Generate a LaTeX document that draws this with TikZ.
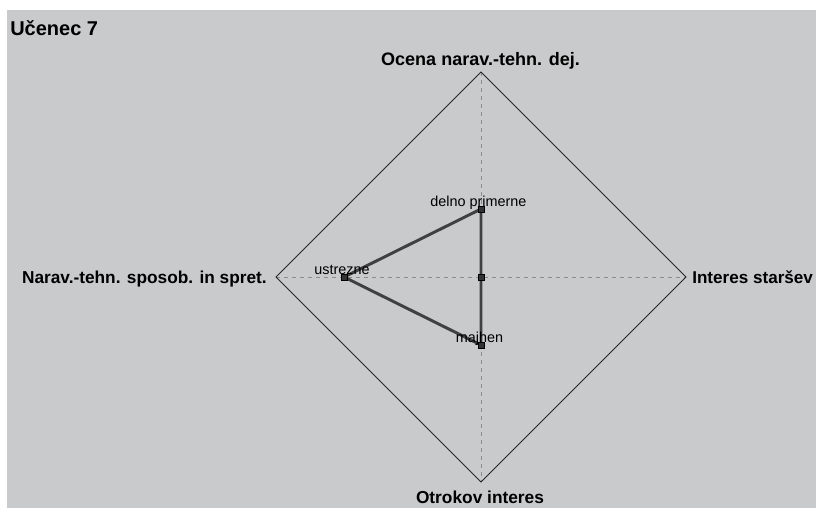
\documentclass[tikz,border=0pt]{standalone}
\usepackage{fontspec}
\setmainfont{Liberation Sans}
\definecolor{bg}{RGB}{201,202,204}
\definecolor{polyc}{RGB}{64,64,64}
\definecolor{axisc}{RGB}{140,140,140}
\newcommand{\fitw}[2]{\resizebox{#1}{!}{\fontsize{13.5}{15}\selectfont\bfseries #2}}
\begin{document}
\begin{tikzpicture}[x=0.75pt,y=-0.75pt,
  axisline/.style={draw=axisc,line width=0.75pt,dash pattern=on 3pt off 3pt},
  frame/.style={draw=black!85,line width=0.75pt},
  poly/.style={draw=polyc,line width=2.2pt},
  datapt/.style={draw=black,fill=polyc!80!black,line width=0.6pt,minimum size=4.5pt,inner sep=0pt,rectangle},
  axlabel/.style={inner sep=0pt},
  vallabel/.style={font=\fontsize{10.8}{12}\selectfont,inner sep=0pt,anchor=base},
  ]
\useasboundingbox (0,0) rectangle (816,508);
\fill[white] (0,0) rectangle (816,508);
\fill[bg] (7,10) rectangle (816,508);
\node[font=\fontsize{15}{17}\selectfont\bfseries,inner sep=0pt,anchor=base west] (title) at (10,35) {Učenec 7};
\coordinate (C) at (481,277);
\coordinate (T) at (481,72);
\coordinate (B) at (481,482);
\coordinate (L) at (276,277);
\coordinate (R) at (686,277);
\draw[axisline] (L) -- (R);
\draw[axisline] (T) -- (B);
\draw[frame] (T) -- (R) -- (B) -- (L) -- cycle;
\node[axlabel,anchor=base] (lt) at (480.5,65) {\fitw{149pt}{Ocena narav.-tehn. dej.}};
\node[axlabel,anchor=base east] (ll) at (267,283) {\fitw{183.5pt}{Narav.-tehn. sposob. in spret.}};
\node[axlabel,anchor=base west] (lr) at (692,283) {\fitw{90.5pt}{Interes staršev}};
\node[axlabel,anchor=base] (lb) at (480,503) {\fitw{96pt}{Otrokov interes}};
\coordinate (p1) at (481,209);
\coordinate (p2) at (481,277);
\coordinate (p3) at (481,345);
\coordinate (p4) at (344,277);
\draw[poly] (p1) -- (p2) -- (p3) -- (p4) -- cycle;
\node[datapt] (m1) at (p1) {};
\node[datapt] (m2) at (p2) {};
\node[datapt] (m3) at (p3) {};
\node[datapt] (m4) at (p4) {};
\node[vallabel] (v1) at (478.5,206) {delno primerne};
\node[vallabel] (v4) at (342,274) {ustrezne};
\node[vallabel] (v3) at (479.5,342) {majhen};
\end{tikzpicture}
\end{document}
